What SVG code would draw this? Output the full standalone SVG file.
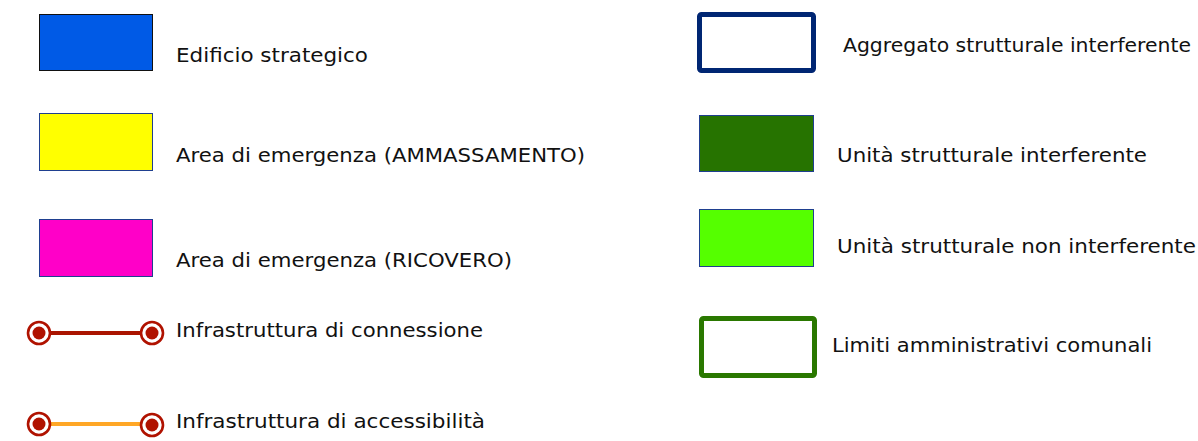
<svg xmlns="http://www.w3.org/2000/svg" width="1198" height="441" viewBox="0 0 1198 441">
<style>
text{font-family:"DejaVu Sans","Liberation Sans",sans-serif;font-size:20px;fill:#111}
.sw{stroke:#1f3f8f;stroke-width:1}
.dot{fill:#b01200}
.ring{fill:#fff;stroke:#b01200;stroke-width:2.6}
</style>
<rect width="1198" height="441" fill="#fff"/>
<g id="edificio-strategico">
<rect x="39.5" y="14.5" width="113" height="56" fill="#005ae6" stroke="#111" stroke-width="1"/>
<text x="176" y="62" textLength="192" lengthAdjust="spacingAndGlyphs">Edificio strategico</text>
</g>
<g id="area-ammassamento">
<rect x="39.5" y="113.5" width="113" height="57" fill="#ffff00" class="sw"/>
<text x="176" y="162" textLength="409" lengthAdjust="spacingAndGlyphs">Area di emergenza (AMMASSAMENTO)</text>
</g>
<g id="area-ricovero">
<rect x="39.5" y="219.5" width="113" height="57" fill="#ff00c8" class="sw"/>
<text x="176" y="267" textLength="336" lengthAdjust="spacingAndGlyphs">Area di emergenza (RICOVERO)</text>
</g>
<g id="connectors">
<line x1="39" y1="333" x2="152" y2="333" stroke="#aa1400" stroke-width="4"/>
<line x1="39" y1="424" x2="152" y2="424" stroke="#ffa726" stroke-width="4"/>
</g>
<g id="infra-connessione">
<circle cx="39" cy="333" r="11" class="ring"/><circle cx="39" cy="333" r="6.5" class="dot"/>
<circle cx="152" cy="333" r="11" class="ring"/><circle cx="152" cy="333" r="6.5" class="dot"/>
<text x="176" y="337" textLength="307" lengthAdjust="spacingAndGlyphs">Infrastruttura di connessione</text>
</g>
<g id="infra-accessibilita">
<circle cx="39" cy="424" r="11" class="ring"/><circle cx="39" cy="424" r="6.5" class="dot"/>
<circle cx="152" cy="425" r="11" class="ring"/><circle cx="152" cy="425" r="6.5" class="dot"/>
<text x="176" y="428" textLength="309" lengthAdjust="spacingAndGlyphs">Infrastruttura di accessibilità</text>
</g>
<g id="aggregato">
<rect x="699.5" y="14.5" width="114" height="56" rx="2" fill="#fff" stroke="#002673" stroke-width="5"/>
<text x="843" y="52" textLength="348" lengthAdjust="spacingAndGlyphs">Aggregato strutturale interferente</text>
</g>
<g id="unita-interferente">
<rect x="699.5" y="115.5" width="114" height="56" fill="#267300" class="sw"/>
<text x="837" y="162" textLength="310" lengthAdjust="spacingAndGlyphs">Unità strutturale interferente</text>
</g>
<g id="unita-non-interferente">
<rect x="699.5" y="209.5" width="114" height="57" fill="#55ff00" class="sw"/>
<text x="837" y="253" textLength="359" lengthAdjust="spacingAndGlyphs">Unità strutturale non interferente</text>
</g>
<g id="limiti-comunali">
<rect x="701.5" y="318.5" width="113" height="57" rx="2" fill="#fff" stroke="#2a7800" stroke-width="5"/>
<text x="832" y="352" textLength="320" lengthAdjust="spacingAndGlyphs">Limiti amministrativi comunali</text>
</g>
</svg>
